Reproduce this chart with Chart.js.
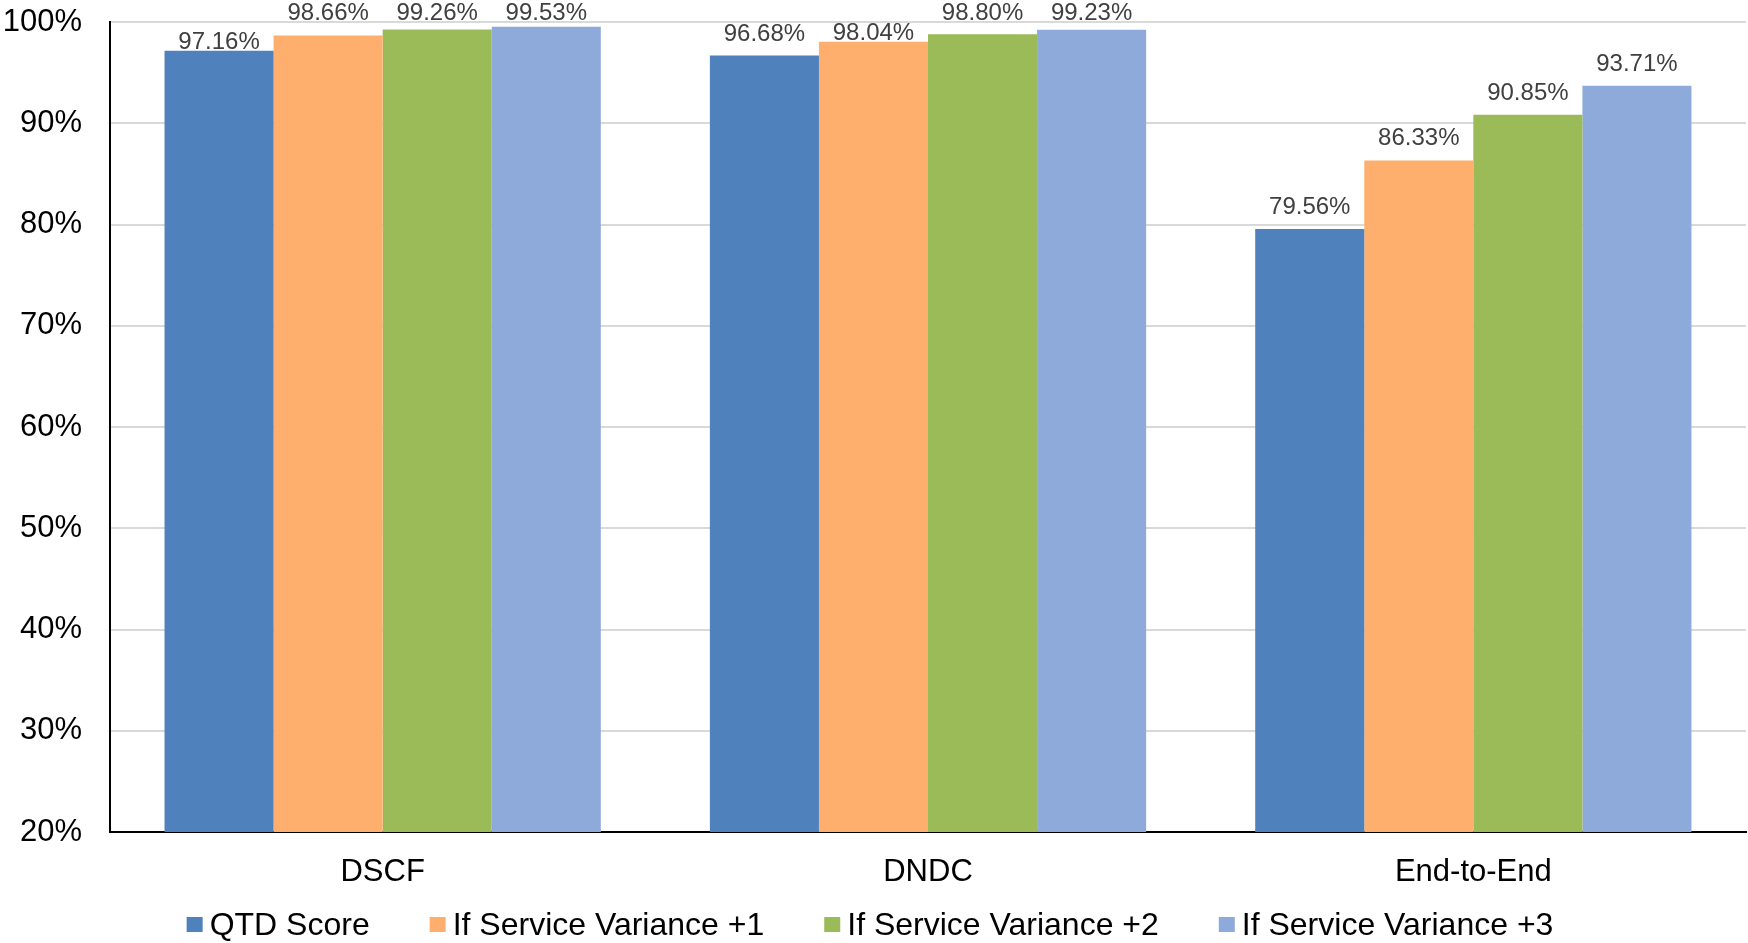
<!DOCTYPE html>
<html>
<head>
<meta charset="utf-8">
<script src="https://cdn.jsdelivr.net/npm/chart.js@4"></script>
<style>
  html, body { margin: 0; padding: 0; background: #ffffff; }
  #wrap { width: 1748px; height: 943px; position: relative; }
</style>
</head>
<body>
<div id="wrap"><canvas id="chart" width="1748" height="943"></canvas></div>
<script>
// Categories and series
const categories = ['DSCF', 'DNDC', 'End-to-End'];
const seriesNames = ['QTD Score', 'If Service Variance +1', 'If Service Variance +2', 'If Service Variance +3'];
const qtdScore  = [97.16, 96.68, 79.56];
const variance1 = [98.66, 98.04, 86.33];
const variance2 = [99.26, 98.80, 90.85];
const variance3 = [99.53, 99.23, 93.71];
const yTickValues = [20, 30, 40, 50, 60, 70, 80, 90, 100];
const seriesColors = ['#4F81BD', '#FFAF6D', '#9BBB59', '#8EAADB'];

const FONT = '"Liberation Sans", Arial, sans-serif';

// Value labels above each bar; labels that would run off the top are held
// at the top edge and crowded neighbours drop down onto their own bar.
const valueLabels = {
  id: 'valueLabels',
  afterDatasetsDraw(chart) {
    const ctx = chart.ctx;
    ctx.save();
    ctx.font = '24px ' + FONT;
    const gap = 15, topBase = 20, pad = 20, capH = 17;
    const items = [];
    chart.data.datasets.forEach((ds, di) => {
      const meta = chart.getDatasetMeta(di);
      meta.data.forEach((bar, i) => {
        const text = ds.data[i].toFixed(2) + '%';
        const w = ctx.measureText(text).width;
        let y = bar.y - gap;
        let clamped = false;
        if (y <= topBase + 3) { y = topBase; clamped = true; }
        items.push({ text, x: bar.x, y, w, barY: bar.y, cat: i, ser: di, clamped });
      });
    });
    items.forEach(a => {
      if (a.clamped) return;
      items.forEach(b => {
        if (b === a || !b.clamped || b.cat !== a.cat || Math.abs(b.ser - a.ser) !== 1) return;
        const hOverlap = Math.abs(a.x - b.x) < (a.w + b.w) / 2 + pad * 2;
        const vOverlap = (a.y - capH) < b.y && (b.y - capH) < a.y;
        if (hOverlap && vOverlap) a.y = a.barY - 2;
      });
    });
    ctx.fillStyle = '#404040';
    ctx.textAlign = 'center';
    ctx.textBaseline = 'alphabetic';
    items.forEach(it => ctx.fillText(it.text, it.x, it.y));
    ctx.restore();
  }
};

// Legend row beneath the category labels
const bottomLegend = {
  id: 'bottomLegend',
  afterDraw(chart) {
    const ctx = chart.ctx;
    ctx.save();
    ctx.font = '32px ' + FONT;
    const box = 16, boxGap = 7, itemGap = 60, cy = 925;
    const widths = chart.data.datasets.map(ds => ctx.measureText(ds.label).width);
    const total = widths.reduce((s, w) => s + box + boxGap + w, 0) + itemGap * (widths.length - 1);
    let x = 870 - total / 2;
    ctx.textBaseline = 'middle';
    ctx.textAlign = 'left';
    chart.data.datasets.forEach((ds, i) => {
      ctx.fillStyle = ds.backgroundColor;
      ctx.fillRect(x, cy - 8, box, 15);
      x += box + boxGap;
      ctx.fillStyle = '#000000';
      ctx.fillText(ds.label, x, cy + 1);
      x += widths[i] + itemGap;
    });
    ctx.restore();
  }
};

const seriesValues = [qtdScore, variance1, variance2, variance3];

new Chart(document.getElementById('chart'), {
  type: 'bar',
  data: {
    labels: categories,
    datasets: seriesNames.map((name, i) => ({
      label: name,
      data: seriesValues[i],
      backgroundColor: seriesColors[i],
      borderWidth: 0,
      categoryPercentage: 0.8,
      barPercentage: 1.0
    }))
  },
  options: {
    responsive: false,
    animation: false,
    layout: { autoPadding: false, padding: { top: 22, right: 2, left: 0, bottom: 0 } },
    plugins: {
      legend: { display: false },
      tooltip: { enabled: false }
    },
    scales: {
      x: {
        grid: { display: false, drawTicks: false },
        border: { display: true, color: '#000000', width: 2 },
        ticks: { color: '#000000', font: { family: FONT, size: 31 }, padding: 22 },
        afterFit(scale) { scale.height = 111; scale.paddingLeft = 0; scale.paddingRight = 0; }
      },
      y: {
        min: 20,
        max: 100,
        afterBuildTicks(scale) { scale.ticks = yTickValues.map(v => ({ value: v })); },
        ticks: {
          color: '#000000',
          font: { family: FONT, size: 31 },
          padding: 28,
          callback: v => v + '%'
        },
        grid: { color: '#D9D9D9', lineWidth: 2, drawTicks: false },
        border: { display: true, color: '#000000', width: 2 },
        afterFit(scale) { scale.width = 110; scale.paddingTop = 0; scale.paddingBottom = 0; }
      }
    }
  },
  plugins: [valueLabels, bottomLegend]
});
</script>
</body>
</html>
